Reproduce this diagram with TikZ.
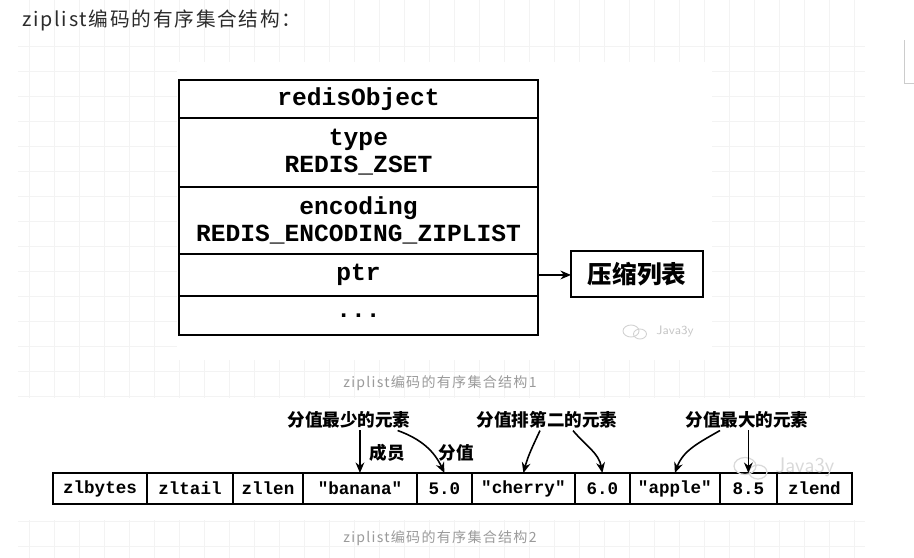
\documentclass[tikz,border=0pt]{standalone}
\usepackage{fontspec}
\setmonofont{Liberation Mono}
\newfontfamily\cjk{Noto Sans CJK SC}
\newfontfamily\cjksp{Noto Sans CJK SC}[LetterSpace=9]
\usetikzlibrary{positioning,arrows.meta}
\definecolor{titlegray}{HTML}{2B2B2B}
\definecolor{capgray}{HTML}{9A9A9A}
\definecolor{gridgray}{HTML}{F3F3F3}
\tikzset{
  objcell/.style={draw, line width=1.3pt, minimum width=7.18cm, outer sep=0pt, inner sep=0pt,
    align=center, font=\ttfamily\bfseries\fontsize{14}{15.5}\selectfont},
  zlcell/.style={draw, line width=1.3pt, minimum height=0.62cm, outer sep=0pt, inner sep=0pt,
    font=\ttfamily\bfseries\fontsize{10}{12}\selectfont},
  lbl/.style={inner sep=1pt, font=\cjk\bfseries\fontsize{10}{12}\selectfont},
  capt/.style={text=capgray, font=\cjksp\fontsize{8}{10}\selectfont},
  ptr/.style={-{Stealth[length=6pt,width=5pt]}, line width=0.9pt},
  gridline/.style={gridgray, line width=0.5pt},
  wmark/.style={text=gray!45, font=\sffamily}
}
\begin{document}
\begin{tikzpicture}[x=0.02cm, y=-0.02cm]
\useasboundingbox (0,0) rectangle (914,558);
\foreach \gx in {29,54,...,854} \draw[gridline] (\gx,0) -- (\gx,558);
\foreach \gy in {46,71,...,546} \draw[gridline] (18,\gy) -- (865,\gy);
\fill[white] (177,62) rectangle (712,360);
\fill[white] (18,398) rectangle (865,520);
\draw[gray!40] (904,40) -- (904,83) -- (914,83);

\node[anchor=west, text=titlegray, font=\cjksp\fontsize{11.2}{13}\selectfont] (title) at (16,20) {ziplist编码的有序集合结构：};

\node[objcell, minimum height=0.76cm] (robj) at (358.5,99) {redisObject};
\node[objcell, minimum height=1.38cm, below=0pt of robj] (otype) {type\\REDIS\_ZSET};
\node[objcell, minimum height=1.34cm, below=0pt of otype] (oenc) {encoding\\REDIS\_ENCODING\_ZIPLIST};
\node[objcell, minimum height=0.84cm, below=0pt of oenc] (optr) {ptr};
\node[objcell, minimum height=0.78cm, below=0pt of optr] (omore) {...};
\node[draw, line width=1.3pt, minimum width=2.64cm, minimum height=0.92cm, outer sep=0pt,
  font=\cjk\bfseries\fontsize{14}{16}\selectfont] (zip) at (637,274) {压缩列表};
\draw[ptr] (optr.east) -- (optr.east -| zip.west);

\draw[gray!35, line width=0.5pt] (631,331) ellipse [x radius=0.16cm, y radius=0.12cm];
\draw[gray!35, line width=0.5pt] (640,334) ellipse [x radius=0.13cm, y radius=0.1cm];
\node[wmark, font=\sffamily\fontsize{7}{8}\selectfont] (wm1) at (675,331) {Java3y};

\node[capt] (cap1) at (440,383) {ziplist编码的有序集合结构1};

\node[zlcell, minimum width=1.88cm] (zlb) at (100,488.5) {zlbytes};
\node[zlcell, minimum width=1.72cm, right=0pt of zlb] (zlt) {zltail};
\node[zlcell, minimum width=1.40cm, right=0pt of zlt] (zll) {zllen};
\node[zlcell, minimum width=2.28cm, right=0pt of zll] (bnn) {"banana"};
\node[zlcell, minimum width=1.10cm, right=0pt of bnn] (s1) {5.0};
\node[zlcell, minimum width=2.06cm, right=0pt of s1] (chy) {"cherry"};
\node[zlcell, minimum width=1.10cm, right=0pt of chy] (s2) {6.0};
\node[zlcell, minimum width=1.80cm, right=0pt of s2] (apl) {"apple"};
\node[zlcell, minimum width=1.14cm, right=0pt of apl] (s3) {8.5};
\node[zlcell, minimum width=1.50cm, right=0pt of s3] (zle) {zlend};

\draw[gray!30, line width=0.7pt] (745,466) ellipse [x radius=0.22cm, y radius=0.17cm];
\draw[gray!30, line width=0.7pt] (758,472) ellipse [x radius=0.18cm, y radius=0.14cm];
\node[wmark, text=gray!30, font=\sffamily\fontsize{12}{14}\selectfont] (wm2) at (805,467) {Java3y};

\node[lbl] (lmin) at (349,420) {分值最少的元素};
\node[lbl] (lsec) at (547,420) {分值排第二的元素};
\node[lbl] (lmax) at (747,420) {分值最大的元素};
\node[lbl] (lmem) at (387,453) {成员};
\node[lbl] (lval) at (456,453) {分值};

\draw[ptr] (lmin.south -| bnn.north) -- (bnn.north);
\draw[ptr] ([xshift=-0.3cm]lmin.south east) to[out=-20, in=115] (s1.north);
\draw[ptr] ([xshift=-0.14cm]lsec.south) to[out=-115, in=75] (chy.north);
\draw[ptr] ([xshift=0.52cm]lsec.south) to[out=-50, in=100] (s2.north);
\draw[ptr] ([xshift=-0.54cm]lmax.south) to[out=-150, in=70] (apl.north);
\draw[ptr] (lmax.south -| s3.north) -- (s3.north);

\node[capt] (cap2) at (440,538) {ziplist编码的有序集合结构2};
\end{tikzpicture}
\end{document}
